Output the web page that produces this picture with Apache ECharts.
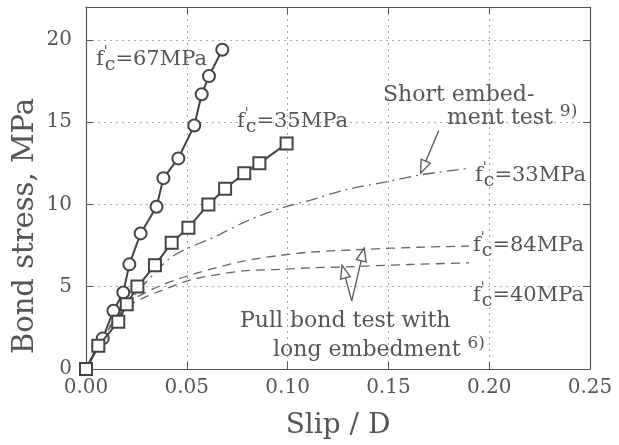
<!DOCTYPE html>
<html><head><meta charset="utf-8">
<script src="https://cdn.jsdelivr.net/npm/echarts@6/dist/echarts.min.js"></script>
<style>html,body{margin:0;padding:0;background:#fff}#c{width:619px;height:445px}</style>
</head><body><div id="c"></div>
<script>
// ---- data ----
const xTickValues = [0, 0.05, 0.10, 0.15, 0.20, 0.25];
const yTickValues = [0, 5, 10, 15, 20];
const slip67   = [0, 0.0083, 0.0136, 0.0185, 0.0215, 0.0271, 0.035, 0.0384, 0.0458, 0.0537, 0.0574, 0.061, 0.0676];
const stress67 = [0, 1.86, 3.54, 4.65, 6.36, 8.24, 9.86, 11.6, 12.8, 14.8, 16.7, 17.8, 19.4];
const slip35   = [0, 0.0061, 0.016, 0.0202, 0.0255, 0.0342, 0.0425, 0.0508, 0.0607, 0.069, 0.0785, 0.086, 0.0995];
const stress35 = [0, 1.41, 2.87, 3.94, 5.01, 6.30, 7.68, 8.59, 10.0, 10.95, 11.9, 12.5, 13.7];
const slip33   = [0, 0.005, 0.01, 0.02, 0.03, 0.043, 0.065, 0.08, 0.096, 0.111, 0.129, 0.15, 0.166, 0.19];
const stress33 = [0, 1.3, 2.3, 3.9, 5.3, 6.85, 8.1, 9.0, 9.75, 10.25, 10.9, 11.4, 11.8, 12.2];
const slip84   = [0, 0.005, 0.01, 0.02, 0.025, 0.037, 0.053, 0.078, 0.096, 0.111, 0.138, 0.165, 0.19];
const stress84 = [0, 1.2, 2.2, 3.8, 4.34, 5.07, 5.76, 6.56, 6.9, 7.1, 7.27, 7.4, 7.47];
const slip40   = [0, 0.005, 0.01, 0.02, 0.027, 0.037, 0.053, 0.078, 0.096, 0.111, 0.127, 0.16, 0.19];
const stress40 = [0, 1.2, 2.2, 3.7, 4.24, 4.75, 5.45, 5.96, 6.05, 6.15, 6.2, 6.35, 6.45];

const FONT = 'DejaVu Serif';
const TXT = '#555';
const pairs = (xs, ys) => xs.map((x, i) => [x, ys[i]]);

const chart = echarts.init(document.getElementById('c'), null, {renderer: 'canvas'});

const baseAxis = {
  type: 'value',
  axisLine: {show: true, onZero: false, lineStyle: {color: '#555', width: 1.2}},
  axisTick: {show: true, inside: true, length: 7, lineStyle: {color: '#555', width: 1}},
};

chart.setOption({
  animation: false,
  backgroundColor: '#fff',
  grid: {left: 86, right: 29, top: 7, bottom: 75},
  xAxis: [
    Object.assign({}, baseAxis, {
      min: xTickValues[0], max: xTickValues[xTickValues.length - 1], interval: 0.05, position: 'bottom',
      axisLabel: {formatter: v => v.toFixed(2), fontFamily: FONT, fontSize: 20, color: TXT, margin: 9},
      splitLine: {show: true, lineStyle: {type: [2, 4], color: '#aaa', width: 1}},
      name: 'Slip / D', nameLocation: 'middle', nameGap: 43,
      nameTextStyle: {fontFamily: FONT, fontSize: 28, color: TXT}
    }),
    Object.assign({}, baseAxis, {
      min: xTickValues[0], max: xTickValues[xTickValues.length - 1], interval: 0.05, position: 'top',
      axisLabel: {show: false}, splitLine: {show: false}
    })
  ],
  yAxis: [
    Object.assign({}, baseAxis, {
      min: yTickValues[0], max: 22, interval: 5, position: 'left',
      axisLabel: {fontFamily: FONT, fontSize: 20, color: TXT, margin: 14, showMaxLabel: false},
      splitLine: {show: true, lineStyle: {type: [2, 4], color: '#aaa', width: 1}}
    }),
    Object.assign({}, baseAxis, {
      min: yTickValues[0], max: 22, interval: 5, position: 'right',
      axisLabel: {show: false}, splitLine: {show: false}
    })
  ],
  series: [
    {type: 'line', name: '33', data: pairs(slip33, stress33), showSymbol: false, smooth: 0.3, z: 2,
     lineStyle: {color: '#666', width: 1.3, type: [12, 5, 2, 5]}},
    {type: 'line', name: '84', data: pairs(slip84, stress84), showSymbol: false, smooth: 0.3, z: 2,
     lineStyle: {color: '#666', width: 1.3, type: [9, 6]}},
    {type: 'line', name: '40', data: pairs(slip40, stress40), showSymbol: false, smooth: 0.3, z: 2,
     lineStyle: {color: '#666', width: 1.3, type: [9, 6]}},
    {type: 'line', name: '67', data: pairs(slip67, stress67), symbol: 'circle', symbolSize: 12, z: 4,
     lineStyle: {color: '#444', width: 2}, itemStyle: {color: '#fff', borderColor: '#444', borderWidth: 2}},
    {type: 'line', name: '35', data: pairs(slip35, stress35), symbol: 'rect', symbolSize: 12, z: 5,
     lineStyle: {color: '#444', width: 2}, itemStyle: {color: '#fff', borderColor: '#444', borderWidth: 2}}
  ]
});

// ---- annotations ----
const richFc = {
  f: {fontFamily: FONT, fontSize: 21, lineHeight: 30, color: TXT},
  p: {fontFamily: FONT, fontSize: 14, lineHeight: 14, verticalAlign: 'top', width: 1, color: TXT},
  c: {fontFamily: FONT, fontSize: 19, lineHeight: 18, verticalAlign: 'bottom', color: TXT},
  n: {fontFamily: FONT, fontSize: 21, lineHeight: 30, color: TXT},
  t: {fontFamily: FONT, fontSize: 22, lineHeight: 30, color: TXT},
  s: {fontFamily: FONT, fontSize: 17, lineHeight: 15, verticalAlign: 'top', color: TXT}
};
function txt(text, x, y) {
  return {type: 'text', x: 0, y: 0, z: 10, silent: true,
    style: {text: text, x: x, y: y, rich: richFc, fill: TXT, font: '22px "' + FONT + '"', align: 'left', verticalAlign: 'middle'}};
}
const fc = v => "{f|f}{p|'}{c|c}{n|=" + v + "MPa}";

const P = d => chart.convertToPixel({xAxisIndex: 0, yAxisIndex: 0}, d);
function arrow(tail, tip) {
  const a = P(tail), b = P(tip);
  const dx = b[0] - a[0], dy = b[1] - a[1], len = Math.hypot(dx, dy);
  const ux = dx / len, uy = dy / len, L = 13, W = 5;
  const bx = b[0] - ux * L, by = b[1] - uy * L;
  return [
    {type: 'line', z: 8, silent: true, shape: {x1: a[0], y1: a[1], x2: bx, y2: by}, style: {stroke: '#555', lineWidth: 1.3}},
    {type: 'polygon', z: 8, silent: true,
     shape: {points: [[b[0], b[1]], [bx - uy * W, by + ux * W], [bx + uy * W, by - ux * W]]},
     style: {fill: '#fff', stroke: '#555', lineWidth: 1.3}}
  ];
}

const elements = [
  {type: 'text', x: 25, y: 226, rotation: Math.PI / 2, silent: true, z: 10,
   style: {text: 'Bond stress, MPa', x: 0, y: 0, fill: TXT, font: '29px "' + FONT + '"', align: 'center', verticalAlign: 'middle'}},
  txt(fc('67'), 96, 60),
  txt(fc('35'), 237, 122),
  txt(fc('33'), 475, 176),
  txt(fc('84'), 473, 246),
  txt(fc('40'), 473, 296),
  txt('{t|Short embed-}', 383, 95),
  txt('{t|ment test }{s|9)}', 447, 118),
  txt('{t|Pull bond test with}', 240, 321),
  txt('{t|long embedment }{s|6)}', 273, 350)
].concat(
  arrow([0.175, 14.5], [0.166, 11.9]),
  arrow([0.1318, 4.14], [0.127, 6.3]),
  arrow([0.1318, 4.14], [0.138, 7.35])
);
chart.setOption({graphic: {elements: elements}});
</script></body></html>
